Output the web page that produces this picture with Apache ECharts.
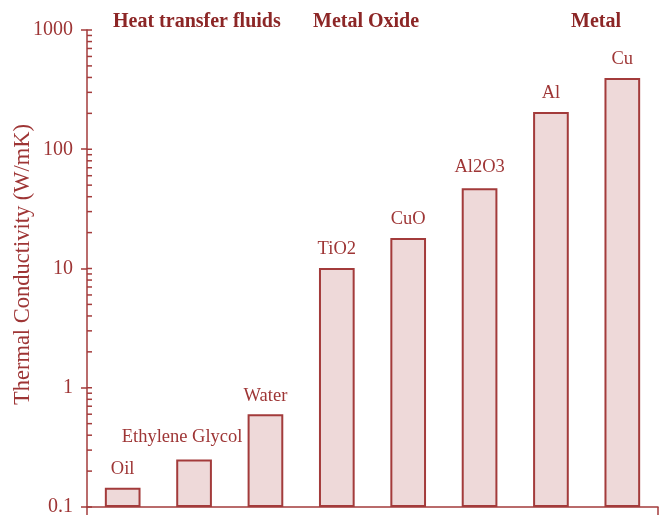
<!DOCTYPE html>
<html>
<head>
<meta charset="utf-8">
<script src="https://cdn.jsdelivr.net/npm/echarts@6/dist/echarts.min.js"></script>
<style>html,body{margin:0;padding:0;background:#fff}#c{width:665px;height:515px}</style>
</head>
<body>
<div id="c"></div>
<script>
const categories = ['Oil', 'Ethylene Glycol', 'Water', 'TiO2', 'CuO', 'Al2O3', 'Al', 'Cu'];
const conductivity = [0.145, 0.25, 0.6, 10.1, 18, 47, 205, 395];
const groupTitles = ['Heat transfer fluids', 'Metal Oxide', 'Metal'];
const yTickLabels = ['0.1', '1', '10', '100', '1000'];
const decades = [0.1, 1, 10, 100];
const minorMultipliers = [1, 2, 3, 4, 5, 6, 7, 8, 9];

const axisColor = '#A33B3B';
const textColor = '#9E3535';
const headColor = '#8C2626';
const serif = '"Liberation Serif", "DejaVu Serif", serif';

const tickValues = [];
decades.forEach(d => minorMultipliers.forEach(m => tickValues.push(+(d * m).toPrecision(3))));
tickValues.push(1000);

const labelOffsets = { 'Ethylene Glycol': [-12, -4], 'Al2O3': [0, -3] };

const chart = echarts.init(document.getElementById('c'), null, { renderer: 'canvas' });
chart.setOption({
  animation: false,
  grid: { left: 87, right: 7, top: 30, bottom: 8, containLabel: false, outerBoundsMode: 'none' },
  xAxis: {
    type: 'category',
    data: categories,
    boundaryGap: true,
    axisLine: { show: true, lineStyle: { color: axisColor, width: 1.5 } },
    axisTick: { show: false },
    axisLabel: { show: false },
    splitLine: { show: false }
  },
  yAxis: {
    type: 'log',
    logBase: 10,
    min: 0.1,
    max: 1000,
    startValue: 0.1,
    name: 'Thermal Conductivity (W/mK)',
    nameLocation: 'middle',
    nameGap: 52,
    nameRotate: 90,
    nameMoveOverlap: false,
    nameTextStyle: { color: textColor, fontFamily: serif, fontSize: 22.5, padding: [0, 0, 0, 8] },
    axisLine: { show: true, lineStyle: { color: axisColor, width: 1.5 } },
    axisTick: { show: true, inside: false, length: 6, lineStyle: { color: axisColor, width: 1.5 } },
    axisLabel: {
      color: textColor, fontFamily: serif, fontSize: 20, margin: 14,
      formatter: function (v) {
        const i = Math.round(Math.log10(v) + 1);
        return yTickLabels[i] !== undefined ? yTickLabels[i] : '';
      }
    },
    splitLine: { show: false },
    minorTick: { show: false }
  },
  graphic: [
    { type: 'text', left: 113, top: 12, style: { text: groupTitles[0], fill: headColor, font: 'bold 20px ' + serif } },
    { type: 'text', left: 313, top: 12, style: { text: groupTitles[1], fill: headColor, font: 'bold 20px ' + serif } },
    { type: 'text', left: 571, top: 12, style: { text: groupTitles[2], fill: headColor, font: 'bold 20px ' + serif } }
  ],
  series: [
    {
      type: 'bar',
      barWidth: '50%',
      data: conductivity.map((v, i) => ({
        value: v,
        label: labelOffsets[categories[i]] ? { offset: labelOffsets[categories[i]] } : undefined
      })),
      itemStyle: { color: '#EED9D9', borderColor: axisColor, borderWidth: 2 },
      label: {
        show: true,
        position: 'top',
        distance: 9,
        color: textColor,
        fontFamily: serif,
        fontSize: 18.5,
        formatter: p => categories[p.dataIndex]
      },
      z: 2
    },
    {
      type: 'custom',
      silent: true,
      clip: false,
      data: tickValues.map(v => [0, v]),
      renderItem: function (params, api) {
        const cs = params.coordSys;
        const y = api.coord([0, api.value(1)])[1];
        const x = cs.x;
        const children = [{
          type: 'line',
          shape: { x1: x, y1: y, x2: x + 5, y2: y },
          style: { stroke: axisColor, lineWidth: 1.5 }
        }];
        if (params.dataIndex === 0) {
          children.push({
            type: 'line',
            shape: { x1: x, y1: cs.y + cs.height, x2: x, y2: cs.y + cs.height + 9 },
            style: { stroke: axisColor, lineWidth: 1.5 }
          });
          children.push({
            type: 'line',
            shape: { x1: x + cs.width, y1: cs.y + cs.height, x2: x + cs.width, y2: cs.y + cs.height + 9 },
            style: { stroke: axisColor, lineWidth: 1.5 }
          });
        }
        return { type: 'group', children: children };
      },
      z: 5
    }
  ]
});
</script>
</body>
</html>
